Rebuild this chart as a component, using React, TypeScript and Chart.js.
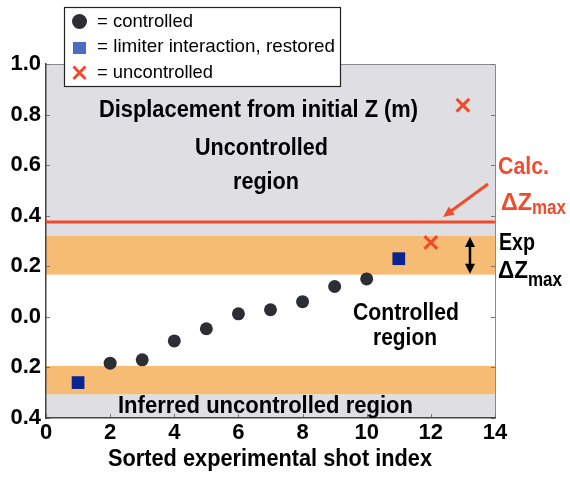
import React, { useEffect, useRef } from 'react';
import { Chart, registerables } from 'chart.js';
Chart.register(...registerables);

// ---- data ----
const xTickValues = [0, 2, 4, 6, 8, 10, 12, 14];
const yTickValues = [-0.4, -0.2, 0, 0.2, 0.4, 0.6, 0.8, 1.0];
const yTickLabels = ['0.4', '0.2', '0.0', '0.2', '0.4', '0.6', '0.8', '1.0'];

const controlledX = [2, 3, 4, 5, 6, 7, 8, 9, 10];
const controlledY = [-0.183, -0.17, -0.095, -0.047, 0.012, 0.028, 0.06, 0.12, 0.15];
const limiterX = [1, 11];
const limiterY = [-0.26, 0.23];
const uncontrolledX = [12, 13];
const uncontrolledY = [0.294, 0.837];
const calcDeltaZmax = 0.375;
const greyBands = [[0.32, 1.0], [-0.4, -0.306]];
const orangeBands = [[0.167, 0.32], [-0.306, -0.194]];

const FONT = '"Liberation Sans", Arial, sans-serif';
const RED = '#f04b2c';

function arrowHead(ctx: CanvasRenderingContext2D, x: number, y: number, angle: number, len: number, half: number) {
  ctx.save();
  ctx.translate(x, y);
  ctx.rotate(angle);
  ctx.beginPath();
  ctx.moveTo(0, 0);
  ctx.lineTo(-len, -half);
  ctx.lineTo(-len, half);
  ctx.closePath();
  ctx.fill();
  ctx.restore();
}

function drawFit(
  ctx: CanvasRenderingContext2D, text: string, x: number, y: number, w: number,
  size: number, weight: string, align: CanvasTextAlign, color: string,
) {
  ctx.save();
  ctx.font = `${weight} ${size}px ${FONT}`;
  const m = ctx.measureText(text).width;
  const s = m > 0 ? w / m : 1;
  ctx.translate(x, y);
  ctx.scale(s, 1);
  ctx.textAlign = align;
  ctx.textBaseline = 'alphabetic';
  ctx.fillStyle = color;
  ctx.fillText(text, 0, 0);
  ctx.restore();
}

const decor = {
  id: 'decor',
  beforeDraw(chart: any) {
    const { ctx, chartArea: a, scales } = chart;
    const ys = scales.y;
    ctx.save();
    ctx.fillStyle = '#fff';
    ctx.fillRect(0, 0, chart.width, chart.height);
    ctx.fillStyle = '#dfdfe3';
    greyBands.forEach(([lo, hi]) => {
      const t = ys.getPixelForValue(hi), b = ys.getPixelForValue(lo);
      ctx.fillRect(a.left, t, a.right - a.left, b - t);
    });
    ctx.fillStyle = '#f7bc73';
    orangeBands.forEach(([lo, hi]) => {
      const t = ys.getPixelForValue(hi), b = ys.getPixelForValue(lo);
      ctx.fillRect(a.left, t, a.right - a.left, b - t);
    });
    ctx.strokeStyle = '#8a8a8a';
    ctx.lineWidth = 1;
    ctx.beginPath();
    ctx.moveTo(a.left, a.top + 0.5);
    ctx.lineTo(a.right + 0.5, a.top + 0.5);
    ctx.lineTo(a.right + 0.5, a.bottom);
    ctx.stroke();
    ctx.strokeStyle = '#777';
    ctx.beginPath();
    yTickValues.forEach((v) => {
      const p = Math.round(ys.getPixelForValue(v)) + 0.5;
      ctx.moveTo(a.left, p); ctx.lineTo(a.left + 4, p);
      ctx.moveTo(a.right - 4, p); ctx.lineTo(a.right, p);
    });
    xTickValues.forEach((v) => {
      const p = Math.round(scales.x.getPixelForValue(v)) + 0.5;
      ctx.moveTo(p, a.bottom); ctx.lineTo(p, a.bottom - 4);
    });
    ctx.stroke();
    ctx.restore();
  },
  afterDraw(chart: any) {
    const { ctx, scales } = chart;
    const xs = scales.x, ys = scales.y;
    ctx.save();
    const K = '#000';
    drawFit(ctx, 'Displacement from initial Z (m)', 258.5, 117, 319, 23, 'bold', 'center', K);
    drawFit(ctx, 'Uncontrolled', 261.5, 155, 133, 23, 'bold', 'center', K);
    drawFit(ctx, 'region', 266, 189, 66, 23, 'bold', 'center', K);
    drawFit(ctx, 'Controlled', 406, 320, 106, 23, 'bold', 'center', K);
    drawFit(ctx, 'region', 405, 345, 64, 23, 'bold', 'center', K);
    drawFit(ctx, 'Inferred uncontrolled region', 265.5, 413, 295, 23, 'bold', 'center', K);
    drawFit(ctx, 'Sorted experimental shot index', 270, 466, 324, 24, 'bold', 'center', K);

    drawFit(ctx, 'Calc.', 498, 174, 51, 23, 'bold', 'left', RED);
    drawFit(ctx, '\u0394Z', 501, 210, 31, 23, 'bold', 'left', RED);
    drawFit(ctx, 'max', 532, 214, 34, 20, 'bold', 'left', RED);
    drawFit(ctx, 'Exp', 499, 250, 36, 23, 'bold', 'left', K);
    drawFit(ctx, '\u0394Z', 498, 278, 30, 23, 'bold', 'left', K);
    drawFit(ctx, 'max', 528, 286, 34, 20, 'bold', 'left', K);

    // red arrow
    ctx.strokeStyle = RED;
    ctx.fillStyle = RED;
    ctx.lineWidth = 3;
    const x1 = 488, y1 = 184, x2 = 443, y2 = 217;
    const ang = Math.atan2(y2 - y1, x2 - x1);
    ctx.beginPath();
    ctx.moveTo(x1, y1);
    ctx.lineTo(x2 - Math.cos(ang) * 8, y2 - Math.sin(ang) * 8);
    ctx.stroke();
    arrowHead(ctx, x2, y2, ang, 11, 5);

    // black double arrow
    const ax = xs.getPixelForValue(13.22);
    const at = ys.getPixelForValue(orangeBands[0][1]) + 1;
    const ab = ys.getPixelForValue(orangeBands[0][0]) - 1;
    ctx.strokeStyle = '#000';
    ctx.fillStyle = '#000';
    ctx.lineWidth = 2.5;
    ctx.beginPath();
    ctx.moveTo(ax, at + 8);
    ctx.lineTo(ax, ab - 8);
    ctx.stroke();
    arrowHead(ctx, ax, at, -Math.PI / 2, 10, 5);
    arrowHead(ctx, ax, ab, Math.PI / 2, 10, 5);

    // legend
    ctx.fillStyle = '#fff';
    ctx.fillRect(64, 7, 276, 79);
    ctx.strokeStyle = '#222';
    ctx.lineWidth = 1.2;
    ctx.strokeRect(64.5, 7.5, 276, 79);
    ctx.fillStyle = '#2b2f33';
    ctx.beginPath();
    ctx.arc(79.5, 21.5, 7.5, 0, Math.PI * 2);
    ctx.fill();
    ctx.fillStyle = '#4a6cc0';
    ctx.fillRect(73, 42, 13, 12);
    ctx.strokeStyle = RED;
    ctx.lineWidth = 3;
    ctx.beginPath();
    ctx.moveTo(73.5, 66.5); ctx.lineTo(85.5, 79);
    ctx.moveTo(85.5, 66.5); ctx.lineTo(73.5, 79);
    ctx.stroke();
    drawFit(ctx, '= controlled', 97, 27, 96, 19, 'normal', 'left', K);
    drawFit(ctx, '= limiter interaction, restored', 97, 52, 238, 19, 'normal', 'left', K);
    drawFit(ctx, '= uncontrolled', 97, 78, 116, 19, 'normal', 'left', K);
    ctx.restore();
  },
};

export default function App() {
  const ref = useRef<HTMLCanvasElement>(null);
  useEffect(() => {
    if (!ref.current) return;
    const chart = new Chart(ref.current, {
      type: 'scatter',
      data: {
        datasets: [
          {
            label: 'Calc. ΔZmax',
            data: [{ x: 0, y: calcDeltaZmax }, { x: 14, y: calcDeltaZmax }],
            showLine: true,
            borderColor: RED,
            borderWidth: 3,
            pointRadius: 0,
          } as any,
          {
            label: 'controlled',
            data: controlledX.map((x, i) => ({ x, y: controlledY[i] })),
            pointStyle: 'circle',
            pointRadius: 6.5,
            backgroundColor: '#2b2f33',
            borderColor: '#2b2f33',
            borderWidth: 0,
          },
          {
            label: 'limiter interaction, restored',
            data: limiterX.map((x, i) => ({ x, y: limiterY[i] })),
            pointStyle: 'rect',
            pointRadius: 9,
            backgroundColor: '#0b2391',
            borderColor: '#0b2391',
            borderWidth: 0,
          },
          {
            label: 'uncontrolled',
            data: uncontrolledX.map((x, i) => ({ x, y: uncontrolledY[i] })),
            pointStyle: 'crossRot',
            pointRadius: 9,
            borderColor: RED,
            borderWidth: 3,
          },
        ],
      },
      options: {
        responsive: false,
        animation: false,
        events: [],
        layout: { padding: { left: 0, top: 64, right: 75, bottom: 0 } },
        plugins: { legend: { display: false }, tooltip: { enabled: false } },
        scales: {
          x: {
            type: 'linear',
            min: 0,
            max: 14,
            afterBuildTicks: (s: any) => { s.ticks = xTickValues.map((v) => ({ value: v })); },
            afterFit: (s: any) => { s.height = 62; },
            grid: { display: false, drawTicks: false },
            border: { display: true, color: '#444', width: 1.5 },
            ticks: {
              color: '#000',
              padding: 2,
              maxRotation: 0,
              font: { family: FONT, size: 22, weight: 'bold' },
              callback: (v: any) => String(v),
            },
          },
          y: {
            type: 'linear',
            min: -0.4,
            max: 1.0,
            afterBuildTicks: (s: any) => { s.ticks = yTickValues.map((v) => ({ value: v })); },
            afterFit: (s: any) => { s.width = 46; },
            grid: { display: false, drawTicks: false },
            border: { display: true, color: '#444', width: 1.5 },
            ticks: {
              color: '#000',
              padding: 5,
              font: { family: FONT, size: 22, weight: 'bold' },
              callback: (_v: any, i: number) => yTickLabels[i],
            },
          },
        },
      },
      plugins: [decor],
    });
    return () => chart.destroy();
  }, []);
  return (
    <div style={{ position: 'fixed', left: 0, top: 0, width: 570, height: 480 }}>
      <canvas ref={ref} width={570} height={480} />
    </div>
  );
}
